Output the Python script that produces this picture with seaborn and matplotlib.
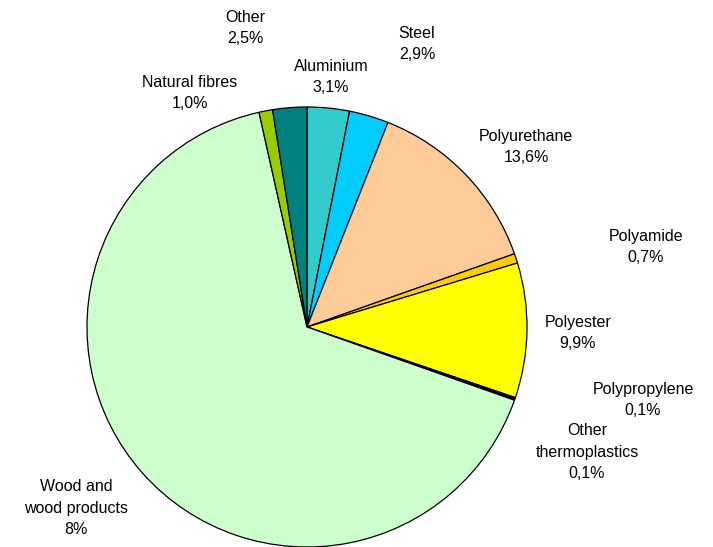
import matplotlib
matplotlib.use("Agg")
import matplotlib.pyplot as plt
import seaborn as sns

sns.set_theme(style="white")
plt.rcParams['font.family'] = ['Liberation Sans', 'DejaVu Sans']

categories = ["Aluminium", "Steel", "Polyurethane", "Polyamide", "Polyester",
              "Polypropylene", "Other\nthermoplastics", "Wood and\nwood products",
              "Natural fibres", "Other"]
values = [3.1, 2.9, 13.6, 0.7, 9.9, 0.1, 0.1, 66.1, 1.0, 2.5]
value_labels = ["3,1%", "2,9%", "13,6%", "0,7%", "9,9%", "0,1%", "0,1%", "8%", "1,0%", "2,5%"]
colors = ["#33CCCC", "#00CCFF", "#FFCC99", "#FFCC00", "#FFFF00",
          "#FF9900", "#FF6600", "#CCFFCC", "#99CC00", "#008080"]

# label centre positions in pixels from top-left
label_pos = [(331, 77), (417, 44), (526, 147), (646, 247), (578, 333),
             (643, 400), (587, 452), (76, 508), (190, 93), (245, 28)]

W, H = 713, 547
fig = plt.figure(figsize=(W / 100, H / 100), dpi=100)
ax = fig.add_axes([0, 0, 1, 1])
ax.pie(values, colors=colors, startangle=90, counterclock=False,
       center=(307, H - 327), radius=220,
       wedgeprops=dict(edgecolor="black", linewidth=0.9))
ax.set_xlim(0, W)
ax.set_ylim(0, H)
ax.set_aspect("equal")
ax.axis("off")

for cat, vl, (px, py) in zip(categories, value_labels, label_pos):
    ax.text(px, H - py, f"{cat}\n{vl}", ha="center", va="center",
            fontsize=11.5, linespacing=1.55, color="black")

fig.savefig("out.png", dpi=100)
